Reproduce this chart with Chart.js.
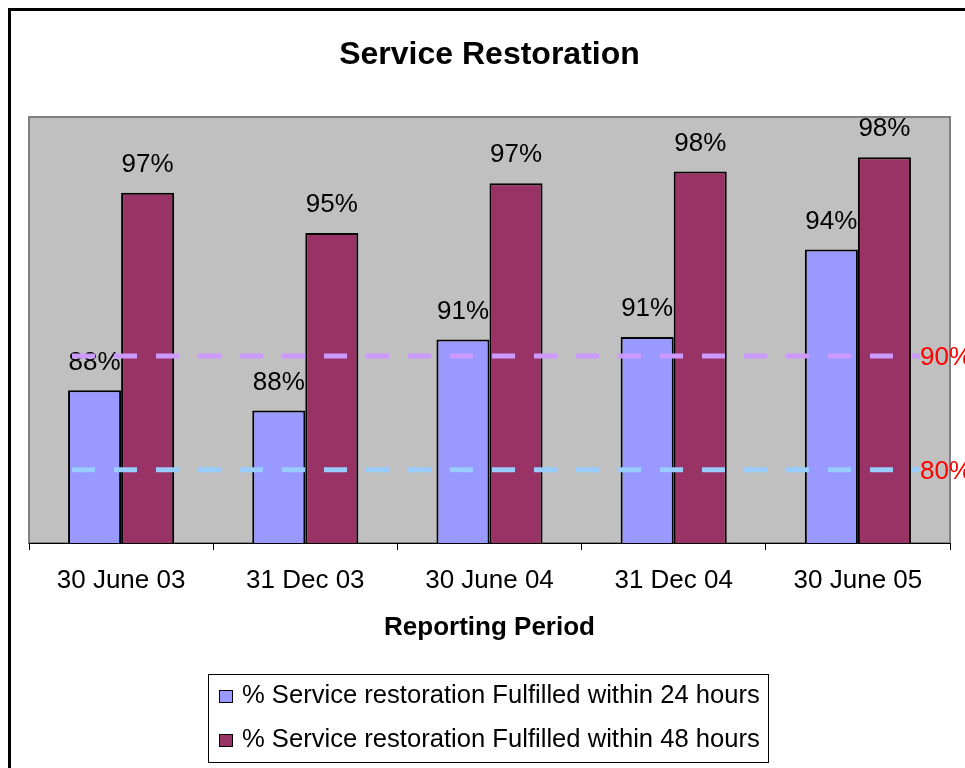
<!DOCTYPE html>
<html>
<head>
<meta charset="utf-8">
<script src="https://cdn.jsdelivr.net/npm/chart.js@4/dist/chart.umd.min.js"></script>
<style>
  html, body { margin: 0; padding: 0; background: #ffffff; }
  canvas { display: block; }
</style>
</head>
<body>
<canvas id="c" width="965" height="768"></canvas>
<script>
// ---- data ----
const chartTitle = 'Service Restoration';
const axisTitle = 'Reporting Period';
const categories = ['30 June 03', '31 Dec 03', '30 June 04', '31 Dec 04', '30 June 05'];
const seriesNames = [
  '% Service restoration Fulfilled within 24 hours',
  '% Service restoration Fulfilled within 48 hours'
];
const within24 = [88.45, 87.6, 90.6, 90.7, 94.4];
const within48 = [96.8, 95.1, 97.2, 97.7, 98.3];
const refLineValues = [89.9, 85.1];
const refLineLabels = ['90%', '80%'];

const FONT = "'Liberation Sans', Arial, sans-serif";
const colors = ['#9999FF', '#993366'];
const refColors = ['#CC99FF', '#99CCFF'];

const decorPlugin = {
  id: 'decor',
  beforeDraw(chart) {
    const ctx = chart.ctx;
    const a = chart.chartArea;
    ctx.save();
    ctx.fillStyle = '#ffffff';
    ctx.fillRect(0, 0, chart.width, chart.height);
    // outer frame
    ctx.strokeStyle = '#000';
    ctx.lineWidth = 3;
    ctx.strokeRect(9.5, 9.5, 1100, 1100);
    // plot area
    ctx.fillStyle = '#C0C0C0';
    ctx.fillRect(a.left, a.top, a.right - a.left, a.bottom - a.top);
    ctx.strokeStyle = '#808080';
    ctx.lineWidth = 2;
    ctx.strokeRect(a.left, a.top, a.right - a.left, a.bottom - a.top);
    // title
    ctx.fillStyle = '#000';
    ctx.font = 'bold 32px ' + FONT;
    ctx.textAlign = 'center';
    ctx.textBaseline = 'middle';
    ctx.fillText(chartTitle, (a.left + a.right) / 2, 55);
    ctx.restore();
  },
  afterDatasetsDraw(chart) {
    const ctx = chart.ctx;
    const a = chart.chartArea;
    const yScale = chart.scales.y;
    ctx.save();
    // data labels
    ctx.font = '26px ' + FONT;
    ctx.fillStyle = '#000';
    ctx.textAlign = 'center';
    ctx.textBaseline = 'middle';
    chart.data.datasets.forEach((ds, di) => {
      const meta = chart.getDatasetMeta(di);
      meta.data.forEach((bar, i) => {
        ctx.fillText(Math.round(ds.data[i]) + '%', bar.x, bar.y - 28);
      });
    });
    // reference lines
    const x0 = a.left + 43;
    const x1 = a.right - 30;
    refLineValues.forEach((v, i) => {
      const y = yScale.getPixelForValue(v);
      ctx.strokeStyle = refColors[i];
      ctx.lineWidth = 5;
      ctx.setLineDash([23, 19]);
      ctx.beginPath();
      ctx.moveTo(x0, y);
      ctx.lineTo(x1, y);
      ctx.stroke();
      ctx.setLineDash([]);
      ctx.fillStyle = '#FF0000';
      ctx.font = '26px ' + FONT;
      ctx.textAlign = 'left';
      ctx.textBaseline = 'middle';
      ctx.fillText(refLineLabels[i], x1, y + 2);
    });
    // legend
    ctx.strokeStyle = '#000';
    ctx.lineWidth = 1;
    ctx.strokeRect(208.5, 674.5, 560, 88);
    ctx.font = '25.6px ' + FONT;
    ctx.textAlign = 'left';
    ctx.textBaseline = 'middle';
    seriesNames.forEach((name, i) => {
      const cy = 696 + i * 44;
      ctx.fillStyle = colors[i];
      ctx.fillRect(219, cy - 6, 14, 13);
      ctx.strokeStyle = '#000';
      ctx.strokeRect(219.5, cy - 5.5, 13, 12);
      ctx.fillStyle = '#000';
      ctx.fillText(name, 242, cy);
    });
    ctx.restore();
  }
};

new Chart(document.getElementById('c'), {
  type: 'bar',
  data: {
    labels: categories,
    datasets: [
      { label: seriesNames[0], data: within24, backgroundColor: colors[0], borderColor: '#000', borderWidth: 2, borderSkipped: 'bottom' },
      { label: seriesNames[1], data: within48, backgroundColor: colors[1], borderColor: '#000', borderWidth: 2, borderSkipped: 'bottom' }
    ]
  },
  options: {
    responsive: false,
    animation: false,
    devicePixelRatio: 1,
    layout: { padding: { top: 117, left: 29, right: 15, bottom: 0 } },
    datasets: { bar: { categoryPercentage: 0.576, barPercentage: 1.0 } },
    plugins: {
      legend: { display: false },
      title: { display: false },
      tooltip: { enabled: false }
    },
    scales: {
      y: { display: false, min: 82, max: 100 },
      x: {
        afterFit(scale) { scale.height = 225; },
        grid: { offset: true, drawOnChartArea: false, drawTicks: true, tickLength: 7, color: '#000', lineWidth: 1 },
        border: { display: true, color: '#000', width: 1 },
        ticks: { color: '#000', font: { family: FONT, size: 26 }, padding: 15, maxRotation: 0, autoSkip: false },
        title: { display: true, text: axisTitle, color: '#000', font: { family: FONT, size: 26, weight: 'bold' }, padding: { top: 0, bottom: 125 } }
      }
    }
  },
  plugins: [decorPlugin]
});
</script>
</body>
</html>
